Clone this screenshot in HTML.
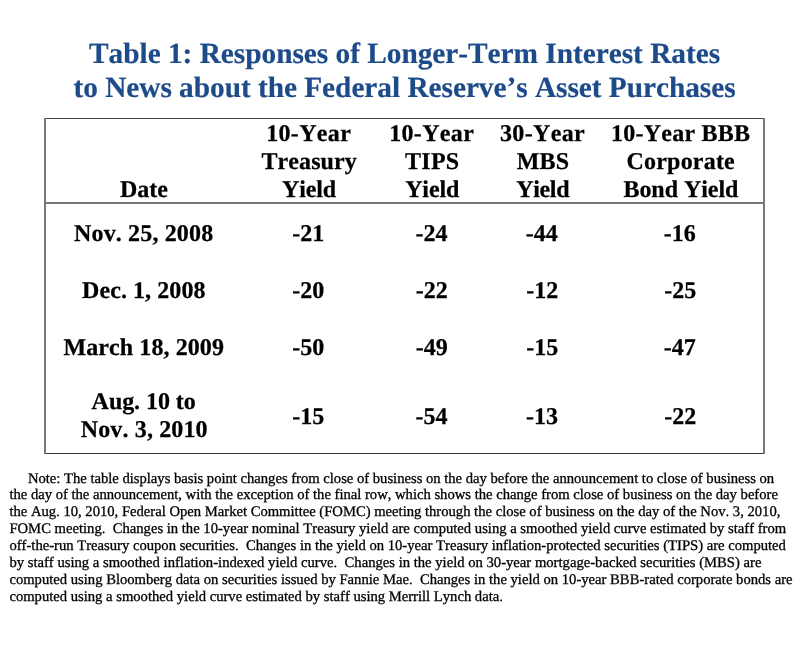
<!DOCTYPE html>
<html>
<head>
<meta charset="utf-8">
<title>Table 1</title>
<style>
html,body{margin:0;padding:0;background:#fff;}
body{width:800px;height:645px;position:relative;overflow:hidden;font-family:"Liberation Serif",serif;color:#000;font-kerning:none;font-variant-ligatures:none;font-feature-settings:"kern" 0,"liga" 0;text-rendering:geometricPrecision;}
#w{position:absolute;left:0;top:0;width:800px;height:645px;filter:blur(0.45px);}
.t{position:absolute;white-space:pre;}
.title{font-weight:bold;font-size:29.33px;line-height:34px;color:#1d4b8a;-webkit-text-stroke:0.2px #1d4b8a;}
.h{font-weight:bold;font-size:24.0px;line-height:28px;-webkit-text-stroke:0.25px #000;}
.n{font-size:14.667px;line-height:17px;-webkit-text-stroke:0.3px #000;}
.ln{position:absolute;background:#666;}
</style>
</head>
<body>
<div id="w">
<div class="ln" style="left:44px;top:118px;width:721px;height:1px;background:#444;"></div>
<div class="ln" style="left:44px;top:453px;width:721px;height:1px;background:#333;"></div>
<div class="ln" style="left:44px;top:202px;width:721px;height:2px;background:#777;"></div>
<div class="ln" style="left:44px;top:118px;width:2px;height:336px;background:#777;"></div>
<div class="ln" style="left:763px;top:118px;width:2px;height:336px;background:#777;"></div>
<div class="t title" style="left:89.09px;top:37px;letter-spacing:-0.023px;">Table 1: Responses of Longer-Term Interest Rates</div>
<div class="t title" style="left:73.47px;top:71px;letter-spacing:-0.033px;">to News about the Federal Reserve’s Asset Purchases</div>
<div class="t h" style="left:120.00px;top:176px;letter-spacing:-0.020px;">Date</div>
<div class="t h" style="left:266.20px;top:120px;letter-spacing:0.332px;">10-Year</div>
<div class="t h" style="left:261.56px;top:148px;letter-spacing:0.067px;">Treasury</div>
<div class="t h" style="left:282.08px;top:176px;letter-spacing:-0.154px;">Yield</div>
<div class="t h" style="left:389.20px;top:120px;letter-spacing:0.332px;">10-Year</div>
<div class="t h" style="left:405.11px;top:148px;letter-spacing:0.224px;">TIPS</div>
<div class="t h" style="left:405.13px;top:176px;letter-spacing:-0.124px;">Yield</div>
<div class="t h" style="left:499.91px;top:120px;letter-spacing:0.362px;">30-Year</div>
<div class="t h" style="left:516.63px;top:148px;letter-spacing:0.248px;">MBS</div>
<div class="t h" style="left:516.30px;top:176px;letter-spacing:-0.361px;">Yield</div>
<div class="t h" style="left:610.92px;top:120px;letter-spacing:0.256px;">10-Year BBB</div>
<div class="t h" style="left:626.51px;top:148px;letter-spacing:0.206px;">Corporate</div>
<div class="t h" style="left:623.45px;top:176px;letter-spacing:-0.050px;">Bond Yield</div>
<div class="t h" style="left:74.02px;top:220px;letter-spacing:0.150px;">Nov. 25, 2008</div>
<div class="t h" style="left:292.34px;top:220px;letter-spacing:0.000px;">-21</div>
<div class="t h" style="left:415.51px;top:220px;letter-spacing:0.000px;">-24</div>
<div class="t h" style="left:525.84px;top:220px;letter-spacing:0.000px;">-44</div>
<div class="t h" style="left:663.75px;top:220px;letter-spacing:0.000px;">-16</div>
<div class="t h" style="left:82.00px;top:277px;letter-spacing:0.081px;">Dec. 1, 2008</div>
<div class="t h" style="left:292.20px;top:277px;letter-spacing:0.000px;">-20</div>
<div class="t h" style="left:415.79px;top:277px;letter-spacing:0.000px;">-22</div>
<div class="t h" style="left:526.32px;top:277px;letter-spacing:0.000px;">-12</div>
<div class="t h" style="left:664.21px;top:277px;letter-spacing:0.000px;">-25</div>
<div class="t h" style="left:63.56px;top:334px;letter-spacing:0.085px;">March 18, 2009</div>
<div class="t h" style="left:292.20px;top:334px;letter-spacing:0.000px;">-50</div>
<div class="t h" style="left:415.76px;top:334px;letter-spacing:0.000px;">-49</div>
<div class="t h" style="left:526.21px;top:334px;letter-spacing:0.000px;">-15</div>
<div class="t h" style="left:663.83px;top:334px;letter-spacing:0.000px;">-47</div>
<div class="t h" style="left:91.62px;top:388px;letter-spacing:-0.064px;">Aug. 10 to</div>
<div class="t h" style="left:80.75px;top:416px;letter-spacing:0.135px;">Nov. 3, 2010</div>
<div class="t h" style="left:292.21px;top:403px;letter-spacing:0.000px;">-15</div>
<div class="t h" style="left:415.51px;top:403px;letter-spacing:0.000px;">-54</div>
<div class="t h" style="left:526.05px;top:403px;letter-spacing:0.000px;">-13</div>
<div class="t h" style="left:664.32px;top:403px;letter-spacing:0.000px;">-22</div>
<div class="t n" style="left:27.90px;top:471px;letter-spacing:-0.018px;">Note: The table displays basis point changes from close of business on the day before the announcement to close of business on</div>
<div class="t n" style="left:9.40px;top:487px;letter-spacing:-0.015px;">the day of the announcement, with the exception of the final row, which shows the change from close of business on the day before</div>
<div class="t n" style="left:9.40px;top:504px;letter-spacing:-0.013px;">the Aug. 10, 2010, Federal Open Market Committee (FOMC) meeting through the close of business on the day of the Nov. 3, 2010,</div>
<div class="t n" style="left:9.40px;top:521px;letter-spacing:-0.008px;">FOMC meeting.  Changes in the 10-year nominal Treasury yield are computed using a smoothed yield curve estimated by staff from</div>
<div class="t n" style="left:9.40px;top:538px;letter-spacing:-0.009px;">off-the-run Treasury coupon securities.  Changes in the yield on 10-year Treasury inflation-protected securities (TIPS) are computed</div>
<div class="t n" style="left:9.40px;top:555px;letter-spacing:-0.004px;">by staff using a smoothed inflation-indexed yield curve.  Changes in the yield on 30-year mortgage-backed securities (MBS) are</div>
<div class="t n" style="left:9.40px;top:572px;letter-spacing:-0.009px;">computed using Bloomberg data on securities issued by Fannie Mae.  Changes in the yield on 10-year BBB-rated corporate bonds are</div>
<div class="t n" style="left:9.40px;top:589px;letter-spacing:-0.013px;">computed using a smoothed yield curve estimated by staff using Merrill Lynch data.</div>
</div>
</body>
</html>
